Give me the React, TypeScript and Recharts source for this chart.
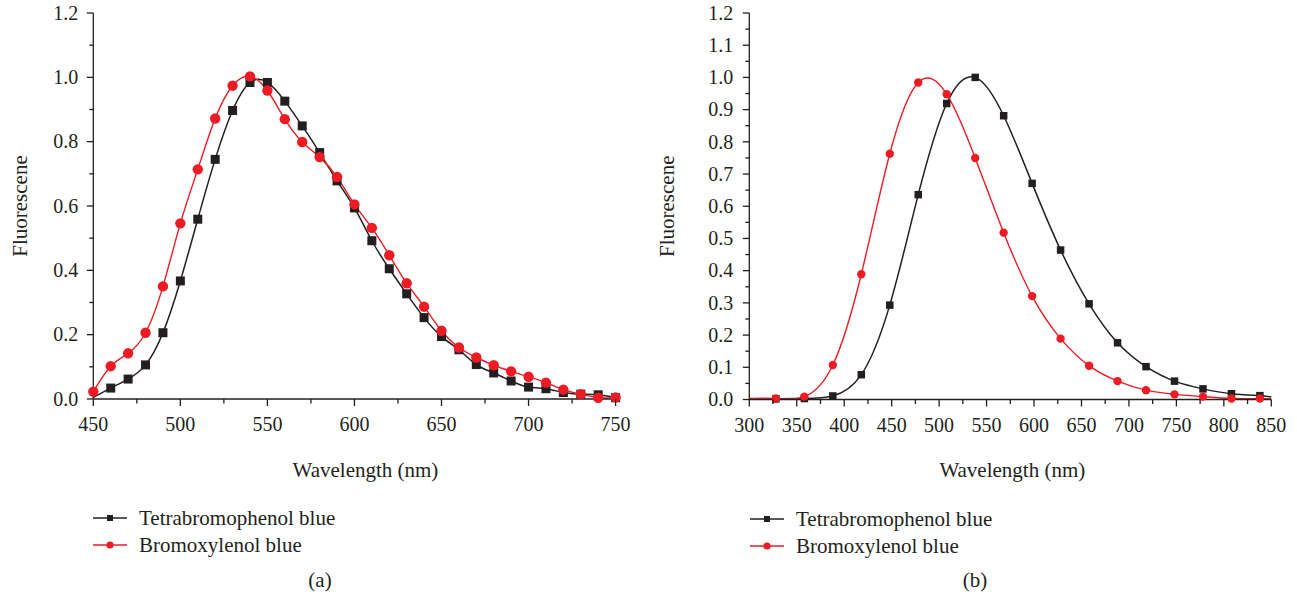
import React from 'react';
import { LineChart, Line, XAxis, YAxis, Legend, Label } from 'recharts';

const FONT = '"Liberation Serif", "Times New Roman", serif';
const INK = '#231f20';
const RED = '#ed1c24';

// ---------- Panel (a) ----------
const waveA = [450, 460, 470, 480, 490, 500, 510, 520, 530, 540, 550, 560, 570, 580, 590, 600, 610, 620, 630, 640, 650, 660, 670, 680, 690, 700, 710, 720, 730, 740, 750];
const tetraA = [0.005, 0.034, 0.062, 0.106, 0.206, 0.367, 0.559, 0.745, 0.897, 0.984, 0.984, 0.926, 0.849, 0.766, 0.678, 0.594, 0.492, 0.405, 0.327, 0.253, 0.194, 0.153, 0.107, 0.081, 0.056, 0.037, 0.032, 0.020, 0.015, 0.013, 0.004];
const bromoA = [0.023, 0.102, 0.142, 0.206, 0.350, 0.546, 0.714, 0.872, 0.974, 1.003, 0.959, 0.870, 0.799, 0.752, 0.690, 0.605, 0.532, 0.447, 0.360, 0.287, 0.212, 0.160, 0.129, 0.105, 0.086, 0.069, 0.051, 0.029, 0.015, 0.004, 0.005];
const xTicksA = [450, 475, 500, 525, 550, 575, 600, 625, 650, 675, 700, 725, 750];
const xMajorA = [450, 500, 550, 600, 650, 700, 750];
const yTicksA = [0, 0.1, 0.2, 0.3, 0.4, 0.5, 0.6, 0.7, 0.8, 0.9, 1.0, 1.1, 1.2];
const yMajorA = [0, 0.2, 0.4, 0.6, 0.8, 1.0, 1.2];

// ---------- Panel (b) ----------
const waveB = [300, 328, 358, 388, 418, 448, 478, 508, 538, 568, 598, 628, 658, 688, 718, 748, 778, 808, 838, 850];
const tetraB = [0.002, 0.002, 0.003, 0.011, 0.077, 0.293, 0.636, 0.919, 1.0, 0.881, 0.671, 0.464, 0.297, 0.176, 0.102, 0.057, 0.033, 0.018, 0.012, 0.008];
const bromoB = [0.003, 0.003, 0.009, 0.107, 0.389, 0.763, 0.984, 0.948, 0.750, 0.518, 0.321, 0.189, 0.105, 0.057, 0.029, 0.016, 0.009, 0.003, 0.003, 0.002];
const xTicksB = [300, 325, 350, 375, 400, 425, 450, 475, 500, 525, 550, 575, 600, 625, 650, 675, 700, 725, 750, 775, 800, 825, 850];
const xMajorB = [300, 350, 400, 450, 500, 550, 600, 650, 700, 750, 800, 850];
const yTicksB = [0, 0.05, 0.1, 0.15, 0.2, 0.25, 0.3, 0.35, 0.4, 0.45, 0.5, 0.55, 0.6, 0.65, 0.7, 0.75, 0.8, 0.85, 0.9, 0.95, 1.0, 1.05, 1.1, 1.15, 1.2];
const yMajorB = [0, 0.1, 0.2, 0.3, 0.4, 0.5, 0.6, 0.7, 0.8, 0.9, 1.0, 1.1, 1.2];

const seriesNames = ['Tetrabromophenol blue', 'Bromoxylenol blue'];
const captions = ['(a)', '(b)'];
const xTitle = 'Wavelength (nm)';
const yTitle = 'Fluorescene';

const dataA = waveA.map((w, i) => ({ w, tetra: tetraA[i], bromo: bromoA[i] }));
const dataB = waveB.map((w, i) => ({ w, tetra: tetraB[i], bromo: bromoB[i] }));

const TICK_SIZE = 7;
const TICK_MARGIN = 4;

const isMajor = (v: number, majors: number[]) => majors.some((m) => Math.abs(m - v) < 1e-6);

const makeXTick = (majors: number[]) => (props: any) => {
  const { x, y, payload } = props;
  const axisY = y - TICK_SIZE - TICK_MARGIN;
  const major = isMajor(payload.value, majors);
  return (
    <g>
      <line x1={x} x2={x} y1={axisY} y2={axisY + (major ? 7 : 4.5)} stroke={INK} strokeWidth={1.3} />
      {major && (
        <text x={x} y={axisY + 25.5} dy="0.34em" textAnchor="middle" fontSize={20} fill={INK} fontFamily={FONT}>
          {payload.value}
        </text>
      )}
    </g>
  );
};

const makeYTick = (majors: number[], gap: number) => (props: any) => {
  const { x, y, payload } = props;
  const axisX = x + TICK_SIZE + TICK_MARGIN;
  const major = isMajor(payload.value, majors);
  return (
    <g>
      <line x1={axisX - (major ? 6.5 : 4)} x2={axisX} y1={y} y2={y} stroke={INK} strokeWidth={1.3} />
      {major && (
        <text x={axisX - gap} y={y} dy="0.34em" textAnchor="end" fontSize={20} fill={INK} fontFamily={FONT}>
          {Number(payload.value).toFixed(1)}
        </text>
      )}
    </g>
  );
};

// skip: indices whose marker is not drawn
const squareDot = (size: number, skip: number[]) => (props: any) => {
  const { cx, cy, index } = props;
  if (skip.includes(index)) return <g key={`s${index}`} />;
  return <rect key={`s${index}`} x={cx - size / 2} y={cy - size / 2} width={size} height={size} fill={INK} />;
};

const circleDot = (r: number, skip: number[]) => (props: any) => {
  const { cx, cy, index } = props;
  if (skip.includes(index)) return <g key={`c${index}`} />;
  return <circle key={`c${index}`} cx={cx} cy={cy} r={r} fill={RED} />;
};

const legendContent = (props: any) => {
  const payload = [...(props.payload || [])].sort(
    (a: any, b: any) => seriesNames.indexOf(a.value) - seriesNames.indexOf(b.value)
  );
  return (
    <div style={{ fontFamily: FONT, fontSize: 21, color: INK, lineHeight: '27px' }}>
      {payload.map((entry: any, i: number) => (
        <div key={i} style={{ display: 'flex', alignItems: 'center', height: 27 }}>
          <svg width={34} height={12} style={{ display: 'block' }}>
            <line x1={0} x2={34} y1={6} y2={6} stroke={entry.color} strokeWidth={1.5} />
            {entry.dataKey === 'tetra' ? (
              <rect x={14} y={3} width={6} height={6} fill={INK} />
            ) : (
              <circle cx={17} cy={6} r={3.6} fill={RED} />
            )}
          </svg>
          <span style={{ marginLeft: 12, whiteSpace: 'nowrap' }}>{entry.value}</span>
        </div>
      ))}
    </div>
  );
};

const titleStyle = { fontFamily: FONT, fontSize: 21, fill: INK };

export default function App() {
  return (
    <div style={{ position: 'absolute', left: 0, top: 0, width: 1297, height: 600, background: '#fff', fontFamily: FONT }}>
      <div style={{ position: 'absolute', left: 0, top: 0 }}>
        <LineChart width={650} height={600} data={dataA} margin={{ top: 13, right: 34.4, bottom: 171, left: 0 }}>
          <XAxis
            dataKey="w"
            type="number"
            domain={[450, 750]}
            ticks={xTicksA}
            interval={0}
            height={30}
            tickSize={TICK_SIZE}
            tickMargin={TICK_MARGIN}
            tickLine={false}
            axisLine={{ stroke: INK, strokeWidth: 1.3 }}
            tick={makeXTick(xMajorA)}
          >
            <Label value={xTitle} position="bottom" offset={33} dx={11} style={titleStyle} />
          </XAxis>
          <YAxis
            type="number"
            domain={[0, 1.2]}
            ticks={yTicksA}
            interval={0}
            width={93.3}
            tickSize={TICK_SIZE}
            tickMargin={TICK_MARGIN}
            tickLine={false}
            axisLine={{ stroke: INK, strokeWidth: 1.3 }}
            tick={makeYTick(yMajorA, 15)}
          >
            <Label value={yTitle} angle={-90} position="insideLeft" offset={16} dx={4} style={{ ...titleStyle, textAnchor: 'middle' }} />
          </YAxis>
          <Line
            dataKey="tetra"
            name={seriesNames[0]}
            type="natural"
            stroke={INK}
            strokeWidth={1.5}
            dot={squareDot(9, [0])}
            activeDot={false}
            isAnimationActive={false}
          />
          <Line
            dataKey="bromo"
            name={seriesNames[1]}
            type="natural"
            stroke={RED}
            strokeWidth={1.4}
            dot={circleDot(5.2, [])}
            activeDot={false}
            isAnimationActive={false}
          />
          <Legend
            layout="vertical"
            align="center"
            verticalAlign="middle"
            itemSorter={null as any}
            content={legendContent}
            wrapperStyle={{ left: 93, top: 504.5, width: 320, height: 54 }}
          />
        </LineChart>
      </div>
      <div style={{ position: 'absolute', left: 650, top: 0 }}>
        <LineChart width={647} height={600} data={dataB} margin={{ top: 13, right: 25.7, bottom: 170.5, left: 0 }}>
          <XAxis
            dataKey="w"
            type="number"
            domain={[300, 850]}
            ticks={xTicksB}
            interval={0}
            height={30}
            tickSize={TICK_SIZE}
            tickMargin={TICK_MARGIN}
            tickLine={false}
            axisLine={{ stroke: INK, strokeWidth: 1.3 }}
            tick={makeXTick(xMajorB)}
          >
            <Label value={xTitle} position="bottom" offset={33} dx={2} style={titleStyle} />
          </XAxis>
          <YAxis
            type="number"
            domain={[0, 1.2]}
            ticks={yTicksB}
            interval={0}
            width={99.3}
            tickSize={TICK_SIZE}
            tickMargin={TICK_MARGIN}
            tickLine={false}
            axisLine={{ stroke: INK, strokeWidth: 1.3 }}
            tick={makeYTick(yMajorB, 16)}
          >
            <Label value={yTitle} angle={-90} position="insideLeft" offset={24} dx={-7} style={{ ...titleStyle, textAnchor: 'middle' }} />
          </YAxis>
          <Line
            dataKey="tetra"
            name={seriesNames[0]}
            type="natural"
            stroke={INK}
            strokeWidth={1.5}
            dot={squareDot(7.5, [0, waveB.length - 1])}
            activeDot={false}
            isAnimationActive={false}
          />
          <Line
            dataKey="bromo"
            name={seriesNames[1]}
            type="natural"
            stroke={RED}
            strokeWidth={1.4}
            dot={circleDot(4.2, [0, waveB.length - 1])}
            activeDot={false}
            isAnimationActive={false}
          />
          <Legend
            layout="vertical"
            align="center"
            verticalAlign="middle"
            itemSorter={null as any}
            content={legendContent}
            wrapperStyle={{ left: 100, top: 505.5, width: 320, height: 54 }}
          />
        </LineChart>
      </div>
      <div style={{ position: 'absolute', left: 270, top: 567, width: 100, textAlign: 'center', fontSize: 21, color: INK, lineHeight: '26px' }}>
        {captions[0]}
      </div>
      <div style={{ position: 'absolute', left: 925, top: 567, width: 100, textAlign: 'center', fontSize: 21, color: INK, lineHeight: '26px' }}>
        {captions[1]}
      </div>
    </div>
  );
}
